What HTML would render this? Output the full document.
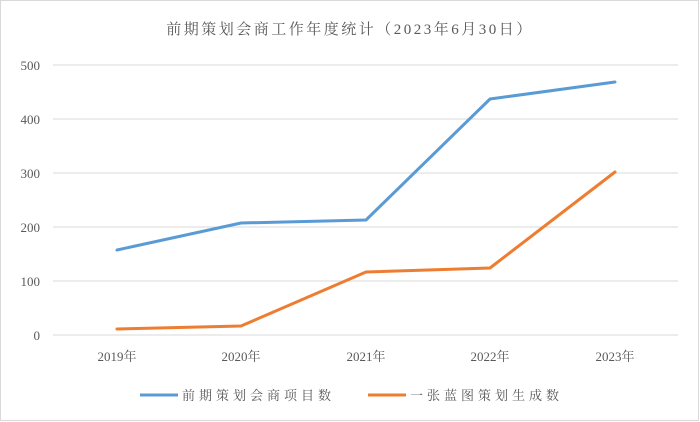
<!DOCTYPE html>
<html><head><meta charset="utf-8"><style>
html,body{margin:0;padding:0;background:#fff;}
svg{display:block;}
text{font-family:"Liberation Serif","Noto Serif CJK SC",serif;fill:#595959;}
</style></head><body>
<svg width="700" height="422" viewBox="0 0 700 422">
<rect x="0.5" y="0.5" width="698" height="420" fill="#fff" stroke="#d9d9d9"/>
<text x="350" y="34" font-size="15" text-anchor="middle" letter-spacing="2.5">前期策划会商工作年度统计（2023年6月30日）</text>
<g stroke="#d9d9d9" stroke-width="1">
<line x1="53" y1="65" x2="678" y2="65"/>
<line x1="53" y1="119" x2="678" y2="119"/>
<line x1="53" y1="173" x2="678" y2="173"/>
<line x1="53" y1="227" x2="678" y2="227"/>
<line x1="53" y1="281" x2="678" y2="281"/>
<line x1="53" y1="335" x2="678" y2="335"/>
</g>
<g font-size="13" text-anchor="end">
<text x="40" y="70">500</text>
<text x="40" y="124">400</text>
<text x="40" y="178">300</text>
<text x="40" y="232">200</text>
<text x="40" y="286">100</text>
<text x="40" y="340">0</text>
</g>
<g font-size="13" text-anchor="middle">
<text x="117" y="361">2019年</text>
<text x="241" y="361">2020年</text>
<text x="366" y="361">2021年</text>
<text x="490" y="361">2022年</text>
<text x="615" y="361">2023年</text>
</g>
<polyline fill="none" stroke="#5b9bd5" stroke-width="3" stroke-linejoin="round" stroke-linecap="round" points="117,250 241,223 366,220 490,99 615,82"/>
<polyline fill="none" stroke="#ed7d31" stroke-width="3" stroke-linejoin="round" stroke-linecap="round" points="117,329 241,326 366,272 490,268 615,172"/>
<line x1="140" y1="395" x2="178" y2="395" stroke="#5b9bd5" stroke-width="3"/>
<text x="182" y="400" font-size="13" letter-spacing="4">前期策划会商项目数</text>
<line x1="368" y1="395" x2="406" y2="395" stroke="#ed7d31" stroke-width="3"/>
<text x="410" y="400" font-size="13" letter-spacing="4">一张蓝图策划生成数</text>
</svg>
</body></html>
